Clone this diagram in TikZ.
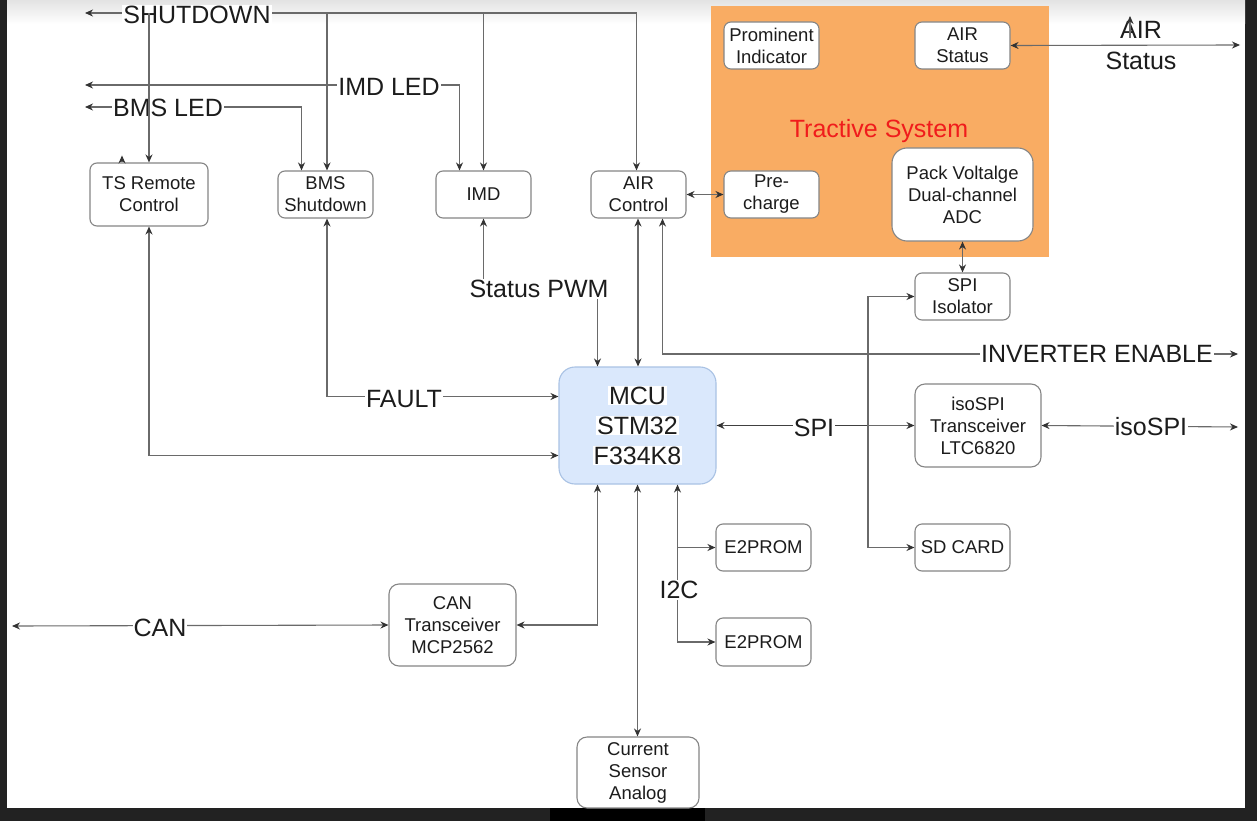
\documentclass[tikz,border=0pt]{standalone}
\usepackage{fontspec}
\setmainfont{Liberation Sans}
\usetikzlibrary{arrows.meta,calc}
\definecolor{ln}{HTML}{6A6A6A}
\definecolor{bx}{HTML}{858585}
\definecolor{txt}{HTML}{1C1C1C}
\definecolor{darkbg}{HTML}{222222}
\definecolor{tsorange}{HTML}{F9AC63}
\definecolor{mcufill}{HTML}{DAE8FC}
\definecolor{mcuedge}{HTML}{A9C2E4}
\definecolor{tsred}{HTML}{F01C1C}
\newcommand\hlw[1]{{\setlength{\fboxsep}{0.8pt}\colorbox{white}{#1}}}
\tikzset{
  conn/.style={draw=ln, line width=1.1pt, arrows={-}},
  tip/.tip={Stealth[length=8pt,width=7pt,color=black!80]},
  box/.style={draw=bx, line width=1.1pt, rounded corners=7pt, fill=white, align=center,
    inner sep=0pt, text=txt, font=\fontsize{18.5}{22}\selectfont},
  lbl/.style={fill=white, inner sep=1pt, text=txt, font=\fontsize{25}{30}\selectfont},
  plainlbl/.style={inner sep=0pt, text=txt, font=\fontsize{25}{30}\selectfont},
}
\begin{document}
\begin{tikzpicture}[x=1pt,y=-1pt,>=tip]
\useasboundingbox (0,0) rectangle (1257,821);
% screenshot frame
\fill[darkbg] (0,0) rectangle (1257,821);
\fill[white] (7,0) rectangle (1245,808);
\shade[top color=gray!22, bottom color=white] (7,0) rectangle (1245,24);
\fill[black] (550,808) rectangle (705,821);
% tractive system area
\fill[tsorange] (711,6) rectangle (1049,257);
\node[text=tsred, font=\fontsize{25}{29}\selectfont] (tslbl) at (879,131) {Tractive System};

% boxes
\node[box, minimum width=95, minimum height=47] (prom) at (771.5,45.5) {Prominent\\Indicator};
\node[box, minimum width=95, minimum height=47] (airst) at (962.5,45.5) {AIR\\Status};
\node[box, minimum width=95, minimum height=47] (pre) at (771.5,194.5) {Pre-\\charge};
\node[box, minimum width=141, minimum height=93, rounded corners=15pt] (pack) at (962.5,194.5) {Pack Voltalge\\Dual-channel\\ADC};
\node[box, minimum width=118, minimum height=63] (tsr) at (149,194.5) {TS Remote\\Control};
\node[box, minimum width=95, minimum height=47] (bms) at (325.5,194.5) {BMS\\Shutdown};
\node[box, minimum width=95, minimum height=47] (imd) at (483.5,194.5) {IMD};
\node[box, minimum width=95, minimum height=47] (airc) at (638.5,194.5) {AIR\\Control};
\node[box, minimum width=95, minimum height=47] (spiiso) at (962.5,296.5) {SPI\\Isolator};
\node[box, draw=mcuedge, fill=mcufill, minimum width=157, minimum height=117, rounded corners=16pt,
      font=\fontsize{25}{30}\selectfont] (mcu) at (637.5,425.5) {\hlw{MCU}\\\hlw{STM32}\\\hlw{F334K8}};
\node[box, minimum width=126, minimum height=83, rounded corners=10pt] (isospi) at (978,425.5) {isoSPI\\Transceiver\\LTC6820};
\node[box, minimum width=95, minimum height=47] (sd) at (962.5,547.5) {SD CARD};
\node[box, minimum width=95, minimum height=47] (eone) at (763.5,547.5) {E2PROM};
\node[box, minimum width=95, minimum height=48] (etwo) at (763.5,642) {E2PROM};
\node[box, minimum width=127, minimum height=82, rounded corners=10pt] (can) at (452.5,625) {CAN\\Transceiver\\MCP2562};
\node[box, minimum width=122, minimum height=71, rounded corners=10pt] (cur) at (638,772.5) {Current\\Sensor\\Analog};

% free ends
\coordinate (shL) at (85,13);
\coordinate (imdL) at (85,85);
\coordinate (bmsL) at (85,107);
\coordinate (airR) at (1240,45);
\coordinate (invR) at (1238,354);
\coordinate (isoR) at (1238,427);
\coordinate (canL) at (12,626);
\coordinate (spiJ) at (868,425.5);
\coordinate (i2cx) at ($(mcu.south)+(40,0)$);
\coordinate (canx) at ($(mcu.south)+(-40,0)$);
\coordinate (pwmx) at ($(mcu.north)+(-40,0)$);
\coordinate (invx) at ($(airc.south)+(24,0)$);

% SHUTDOWN
\draw[conn,<->] (shL) -| ($(airc.north)+(-2,0)$);
\node[lbl] (shutlbl) at (197,15) {SHUTDOWN};
% IMD LED
\draw[conn,<->] (imdL) -| ($(imd.north)+(-24,0)$);
\node[lbl] (imdledlbl) at (389,87) {IMD LED};
% BMS LED
\draw[conn,<->] (bmsL) -| ($(bms.north)+(-24,0)$);
\node[lbl] (bmsledlbl) at (168,108) {BMS LED};
% shutdown branches (drawn over labels)
\draw[conn,->] (tsr.north |- shL) -- (tsr.north);
\draw[conn,->] ($(bms.north |- shL)+(1.5,0)$) -- ($(bms.north)+(1.5,0)$);
\draw[conn,->] (imd.north |- shL) -- (imd.north);
\draw[conn,->] ($(tsr.north)+(-27,0)$) -- ++(0,-7);

% TS remote <-> MCU
\draw[conn,<->] (tsr.south) |- ($(mcu.west)+(0,30)$);
% FAULT
\draw[conn,<->] ($(bms.south)+(1.5,0)$) |- ($(mcu.west)+(0,-29)$);
\node[lbl] (faultlbl) at (404,399) {FAULT};
% Status PWM
\draw[conn,<->] (imd.south) -- (imd.south |- 0,289) -| (pwmx);
\node[lbl] (pwmlbl) at (539,289) {Status PWM};
% AIR control
\draw[conn,<->] ($(airc.south)+(-0.5,0)$) -- ($(airc.south |- mcu.north)+(-0.5,0)$);
\draw[conn,<->] (invx) |- (invR);
\node[lbl] (invlbl) at (1097,354) {INVERTER ENABLE};
\draw[conn,<->] (airc.east) -- (pre.west);
% AIR status
\draw[conn,<->] (airst.east) -- (airR);
\node[plainlbl] (airlblA) at (1141,30) {AIR};
\node[plainlbl] (airlblB) at (1141,61) {Status};
\coordinate (airtk) at (1130,38);
\draw[conn,->] (airtk) -- ++(0,-22);
% pack <-> spi iso
\draw[conn,<->] (pack.south) -- (spiiso.north);
% SPI
\draw[conn,<->] (mcu.east) -- (isospi.west);
\draw[draw=black!75, line width=1.6pt] ($(mcu.east)+(8,0)$) -- (spiJ);
\node[lbl] (spilbl) at (814,428) {SPI};
\draw[conn,->] (spiJ) |- (spiiso.west);
\draw[conn,->] (spiJ) |- (sd.west);
% isoSPI
\draw[conn,<->] (isospi.east) -- (isoR);
\node[lbl] (isolbl) at (1151,427) {isoSPI};
% I2C
\draw[conn,<->] (i2cx) |- (etwo.west);
\draw[conn,->] (i2cx |- eone.west) -- (eone.west);
\node[lbl] (i2clbl) at (679,590) {I2C};
% current sensor
\draw[conn,<->] (mcu.south) -- (mcu.south |- cur.north);
% CAN
\draw[conn,<->] (canx) |- (can.east);
\draw[conn,<->] (canL) -- (can.west);
\node[lbl] (canlbl) at (160,628) {CAN};
\end{tikzpicture}
\end{document}
